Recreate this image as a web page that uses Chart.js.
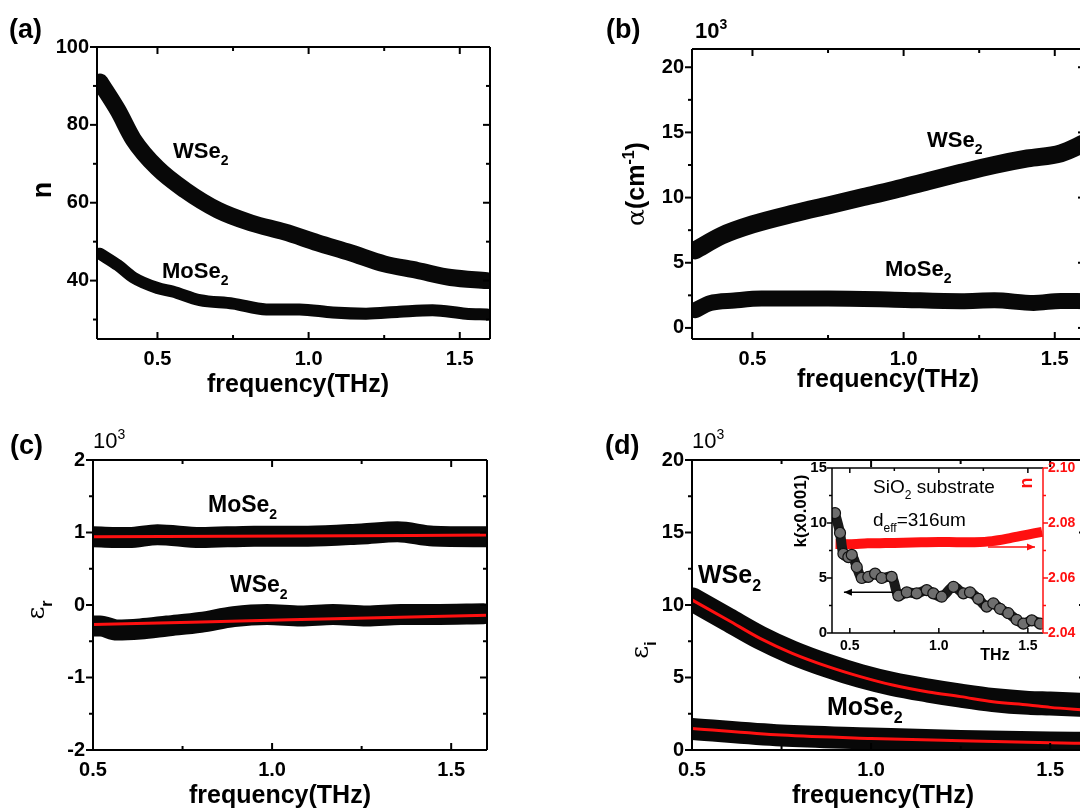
<!DOCTYPE html>
<html>
<head>
<meta charset="utf-8">
<script src="https://cdn.jsdelivr.net/npm/chart.js@4.4.0/dist/chart.umd.min.js"></script>
<style>
  html, body { margin: 0; padding: 0; background: #fff; overflow: hidden; width: 1080px; height: 810px; }
  canvas { position: absolute; }
</style>
</head>
<body>
<canvas id="panelA" width="520" height="410" style="left:0;top:0"></canvas>
<canvas id="panelB" width="540" height="410" style="left:560px;top:0"></canvas>
<canvas id="panelC" width="520" height="400" style="left:0;top:410px"></canvas>
<canvas id="panelD" width="540" height="400" style="left:560px;top:410px"></canvas>
<canvas id="inset" width="320" height="230" style="left:760px;top:440px"></canvas>
<script>
// --- data ---
// (a) refractive index n
const freqA_W = [0.31, 0.37, 0.42, 0.5, 0.59, 0.7, 0.81, 0.92, 1.03, 1.14, 1.25, 1.36, 1.47, 1.59];
const nWSe2   = [91.0, 83.6, 76.3, 68.9, 63.3, 58.1, 54.8, 52.5, 49.7, 47.1, 44.3, 42.6, 40.8, 40.0];
const freqA_M = [0.31, 0.37, 0.42, 0.5, 0.55, 0.64, 0.75, 0.86, 0.97, 1.08, 1.19, 1.3, 1.41, 1.52, 1.59];
const nMoSe2  = [46.9, 43.9, 40.8, 38.1, 37.2, 35.0, 34.1, 32.6, 32.6, 31.8, 31.5, 32.0, 32.4, 31.5, 31.3];

// (b) absorption alpha (x10^3 cm-1)
const freqB_W   = [0.31, 0.4, 0.5, 0.64, 0.75, 0.86, 0.97, 1.08, 1.19, 1.3, 1.41, 1.52, 1.6];
const alphaWSe2 = [5.95, 7.1, 7.94, 8.8, 9.4, 10.0, 10.6, 11.26, 11.9, 12.5, 13.0, 13.4, 14.2];
const freqB_M   = [0.31, 0.36, 0.44, 0.53, 0.75, 0.97, 1.19, 1.3, 1.43, 1.52, 1.6];
const alphaMoSe2 = [1.35, 1.9, 2.1, 2.25, 2.25, 2.17, 2.05, 2.12, 1.92, 2.07, 2.05];

// (c) real permittivity (x10^3)
const freqC_M   = [0.5, 0.6, 0.68, 0.8, 0.95, 1.1, 1.25, 1.35, 1.45, 1.6];
const erMoSe2   = [0.94, 0.93, 0.97, 0.93, 0.95, 0.95, 0.98, 1.01, 0.95, 0.94];
const freqC_W   = [0.5, 0.52, 0.567, 0.632, 0.707, 0.8, 0.893, 0.986, 1.08, 1.17, 1.265, 1.36, 1.45, 1.59];
const erWSe2    = [-0.29, -0.29, -0.345, -0.33, -0.29, -0.24, -0.16, -0.13, -0.15, -0.13, -0.15, -0.13, -0.13, -0.12];
const freqC_fit = [0.5, 1.05, 1.6];
const erMoSe2Fit = [0.94, 0.952, 0.965];
const erWSe2Fit  = [-0.27, -0.205, -0.14];

// (d) imaginary permittivity (x10^3)
const freqD_W    = [0.5, 0.6, 0.69, 0.78, 0.88, 0.97, 1.06, 1.16, 1.25, 1.34, 1.44, 1.5, 1.6];
const eiWSe2     = [10.4, 9.0, 7.75, 6.72, 5.8, 5.1, 4.55, 4.1, 3.75, 3.45, 3.25, 3.2, 3.1];
const eiWSe2Fit  = [10.35, 8.97, 7.7, 6.67, 5.75, 5.06, 4.48, 4.0, 3.68, 3.33, 3.1, 2.94, 2.75];
const freqD_M    = [0.5, 0.75, 1.0, 1.25, 1.5, 1.6];
const eiMoSe2    = [1.45, 1.0, 0.8, 0.62, 0.52, 0.5];
const eiMoSe2Fit = [1.49, 1.03, 0.8, 0.64, 0.5, 0.46];

// inset: SiO2 substrate
const freqK = [0.417, 0.445, 0.464, 0.492, 0.511, 0.539, 0.567, 0.604, 0.642, 0.679, 0.735, 0.773, 0.82, 0.876,
               0.932, 0.969, 1.016, 1.082, 1.138, 1.175, 1.222, 1.269, 1.306, 1.344, 1.39, 1.437, 1.475, 1.522, 1.569];
const kSiO2 = [10.9, 9.1, 7.2, 6.9, 7.1, 6.0, 5.0, 5.1, 5.4, 5.0, 5.1, 3.4, 3.7, 3.6,
               3.9, 3.6, 3.3, 4.2, 3.6, 3.7, 3.1, 2.4, 2.7, 2.2, 1.8, 1.2, 0.85, 1.15, 0.85];
const freqNs = [0.42, 0.5, 0.6, 0.7, 0.8, 0.9, 1.0, 1.1, 1.2, 1.3, 1.4, 1.5, 1.58];
const nSiO2  = [2.0724, 2.0723, 2.0726, 2.0727, 2.0728, 2.073, 2.0731, 2.073, 2.073, 2.0734, 2.0745, 2.0758, 2.0768];

// tick values
const freqTicks = [0.5, 1.0, 1.5];
const freqMinor = [0.75, 1.25];
const nTicks = [40, 60, 80, 100], nMinor = [30, 50, 70, 90];
const alphaTicks = [0, 5, 10, 15, 20], alphaMinor = [2.5, 7.5, 12.5, 17.5];
const erTicks = [-2, -1, 0, 1, 2], erMinor = [-1.5, -0.5, 0.5, 1.5];
const eiTicks = [0, 5, 10, 15, 20], eiMinor = [2.5, 7.5, 12.5, 17.5];
const kTicks = [0, 5, 10, 15], kMinor = [2.5, 7.5, 12.5];
const nsTicks = [2.04, 2.06, 2.08, 2.10], nsMinor = [2.05, 2.07, 2.09];

// --- helpers ---
const FONT = '"Liberation Sans", Arial, sans-serif';
const RED = '#ff1010';
const pts = (xs, ys) => xs.map((x, i) => ({ x: x, y: ys[i] }));

function band(xs, ys, width) {
  return { data: pts(xs, ys), borderColor: '#080808', borderWidth: width, cubicInterpolationMode: 'monotone',
           pointRadius: 0, borderCapStyle: 'round', borderJoinStyle: 'round', fill: false };
}
function fitLine(xs, ys) {
  return { data: pts(xs, ys), borderColor: RED, borderWidth: 3, cubicInterpolationMode: 'monotone', pointRadius: 0, fill: false };
}

function axis(pos, min, max, ticks, fmt, fit, opt) {
  opt = opt || {};
  return {
    type: 'linear', position: pos, min: min, max: max,
    afterBuildTicks: s => { s.ticks = ticks.map(v => ({ value: v })); },
    afterFit: s => { if (s.isHorizontal()) s.height = fit; else s.width = fit; },
    grid: { display: false, drawTicks: false },
    border: { display: false },
    ticks: { callback: fmt, color: opt.color || '#000', padding: opt.padding || 8, autoSkip: false, maxRotation: 0,
             font: { family: FONT, size: opt.size || 20, weight: 'bold' } }
  };
}

// rich text: parts = [[text, 'sub'|'sup'|undefined, fontOverride]]
function drawRich(ctx, t) {
  const size = t.size || 22;
  const fontFor = p => (p[2] && p[2].weight || t.weight || 'bold') + ' ' +
      (p[1] ? Math.round(size * 0.62) : size) + 'px ' + (p[2] && p[2].family || FONT);
  let total = 0;
  const widths = t.parts.map(p => { ctx.font = fontFor(p); const w = ctx.measureText(p[0]).width; total += w; return w; });
  ctx.save();
  ctx.translate(t.x, t.y);
  if (t.rot) ctx.rotate(t.rot * Math.PI / 180);
  ctx.fillStyle = t.color || '#000';
  ctx.textBaseline = 'alphabetic';
  ctx.textAlign = 'left';
  let cx = t.align === 'center' ? -total / 2 : 0;
  t.parts.forEach((p, i) => {
    ctx.font = fontFor(p);
    const dy = p[1] === 'sub' ? size * 0.3 : p[1] === 'sup' ? -size * 0.42 : 0;
    ctx.fillText(p[0], cx, dy);
    cx += widths[i];
  });
  ctx.restore();
}

function arrow(ctx, x1, y1, x2, y2, color) {
  ctx.save();
  ctx.strokeStyle = color; ctx.fillStyle = color; ctx.lineWidth = 1.5;
  ctx.beginPath(); ctx.moveTo(x1, y1); ctx.lineTo(x2, y2); ctx.stroke();
  const dir = Math.sign(x2 - x1);
  ctx.beginPath(); ctx.moveTo(x2, y2); ctx.lineTo(x2 - dir * 8, y2 - 3.5); ctx.lineTo(x2 - dir * 8, y2 + 3.5); ctx.closePath(); ctx.fill();
  ctx.restore();
}

// frame, inward/outward ticks, annotations
const framePlugin = {
  id: 'frame',
  beforeDatasetsDraw(chart, args, o) {
    if (!o.whiteArea) return;
    const a = chart.chartArea, ctx = chart.ctx;
    ctx.save(); ctx.fillStyle = '#fff'; ctx.fillRect(a.left, a.top, a.right - a.left, a.bottom - a.top); ctx.restore();
  },
  afterDraw(chart, args, o) {
    const ctx = chart.ctx, a = chart.chartArea, sx = chart.scales.x, sy = chart.scales.y, sy2 = chart.scales.y2;
    const L = o.tickLen || 7, l = o.minorLen || 4;
    const line = (x1, y1, x2, y2) => { ctx.beginPath(); ctx.moveTo(x1, y1); ctx.lineTo(x2, y2); ctx.stroke(); };
    ctx.save();
    ctx.lineWidth = o.lineWidth || 2;
    ctx.strokeStyle = '#000';
    line(a.left, a.top, a.right, a.top);
    line(a.left, a.bottom, a.right, a.bottom);
    line(a.left, a.top, a.left, a.bottom);
    ctx.strokeStyle = sy2 ? RED : '#000';
    line(a.right, a.top, a.right, a.bottom);
    ctx.strokeStyle = '#000';
    const xs = sx.ticks.map(t => [t.value, L]).concat((o.xMinor || []).map(v => [v, l]));
    xs.forEach(([v, len]) => {
      const p = sx.getPixelForValue(v);
      line(p, a.bottom, p, a.bottom - len);
      line(p, a.top, p, a.top + len);
    });
    const ys = sy.ticks.map(t => [t.value, L]).concat((o.yMinor || []).map(v => [v, l]));
    ys.forEach(([v, len]) => {
      const p = sy.getPixelForValue(v);
      line(a.left - len, p, a.left, p);
      if (!sy2) line(a.right, p, a.right - len, p);
    });
    if (sy2) {
      ctx.strokeStyle = RED;
      sy2.ticks.map(t => [t.value, L]).concat((o.y2Minor || []).map(v => [v, l])).forEach(([v, len]) => {
        const p = sy2.getPixelForValue(v);
        line(a.right, p, a.right + len, p);
      });
    }
    ctx.restore();
    (o.arrows || []).forEach(ar => {
      const ys2 = chart.scales[ar.axis];
      arrow(ctx, sx.getPixelForValue(ar.from), ys2.getPixelForValue(ar.y), sx.getPixelForValue(ar.to), ys2.getPixelForValue(ar.y), ar.color);
    });
    (o.texts || []).forEach(t => drawRich(ctx, t));
  }
};
Chart.register(framePlugin);

const fmt1 = v => v.toFixed(1);
const fmt0 = v => String(v);
const SYM = { family: '"DejaVu Serif", "Liberation Serif", serif', weight: 'normal' };

// note: Chart.js paints dataset 0 on top, so the red fits come first
function panel(id, datasets, scales, pad, frame) {
  return new Chart(document.getElementById(id), {
    type: 'line',
    data: { datasets: datasets },
    options: {
      responsive: false, animation: false,
      layout: { padding: pad },
      scales: scales,
      plugins: { legend: { display: false }, tooltip: { enabled: false }, frame: frame }
    }
  });
}

// (a)
panel('panelA',
  [band(freqA_W, nWSe2, 17), band(freqA_M, nMoSe2, 12)],
  { x: axis('bottom', 0.3, 1.6, freqTicks, fmt1, 71), y: axis('left', 25, 100, nTicks, fmt0, 97) },
  { top: 47, right: 30, left: 0, bottom: 0 },
  { xMinor: freqMinor, yMinor: nMinor, texts: [
    { x: 9, y: 38, size: 27, parts: [['(a)']] },
    { x: 51, y: 190, size: 27, rot: -90, align: 'center', parts: [['n']] },
    { x: 298, y: 392, size: 25, align: 'center', parts: [['frequency(THz)']] },
    { x: 173, y: 158, size: 22, parts: [['WSe'], ['2', 'sub']] },
    { x: 162, y: 278, size: 22, parts: [['MoSe'], ['2', 'sub']] }
  ] });

// (b)
panel('panelB',
  [band(freqB_W, alphaWSe2, 18), band(freqB_M, alphaMoSe2, 16)],
  { x: axis('bottom', 0.3, 1.6, freqTicks, fmt1, 71), y: axis('left', -0.85, 21.4, alphaTicks, fmt0, 132) },
  { top: 49, right: 15, left: 0, bottom: 0 },
  { xMinor: freqMinor, yMinor: alphaMinor, texts: [
    { x: 46, y: 38, size: 27, parts: [['(b)']] },
    { x: 135, y: 38, size: 22, parts: [['10'], ['3', 'sup']] },
    { x: 84, y: 184, size: 25, rot: -90, align: 'center', parts: [['\u03b1', undefined, SYM], ['(cm'], ['-1', 'sup'], [')']] },
    { x: 328, y: 387, size: 25, align: 'center', parts: [['frequency(THz)']] },
    { x: 367, y: 147, size: 22, parts: [['WSe'], ['2', 'sub']] },
    { x: 325, y: 276, size: 22, parts: [['MoSe'], ['2', 'sub']] }
  ] });

// (c)
panel('panelC',
  [fitLine(freqC_fit, erMoSe2Fit), fitLine(freqC_fit, erWSe2Fit), band(freqC_M, erMoSe2, 21), band(freqC_W, erWSe2, 21)],
  { x: axis('bottom', 0.5, 1.6, freqTicks, fmt1, 60), y: axis('left', -2, 2, erTicks, fmt0, 93) },
  { top: 50, right: 33, left: 0, bottom: 0 },
  { xMinor: freqMinor, yMinor: erMinor, texts: [
    { x: 10, y: 44, size: 27, parts: [['(c)']] },
    { x: 93, y: 38, size: 22, weight: 'normal', parts: [['10'], ['3', 'sup']] },
    { x: 44, y: 200, size: 25, rot: -90, align: 'center', parts: [['\u03b5', undefined, SYM], ['r', 'sub']] },
    { x: 280, y: 393, size: 25, align: 'center', parts: [['frequency(THz)']] },
    { x: 208, y: 102, size: 23, parts: [['MoSe'], ['2', 'sub']] },
    { x: 230, y: 182, size: 23, parts: [['WSe'], ['2', 'sub']] }
  ] });

// (d)
panel('panelD',
  [fitLine(freqD_W, eiWSe2Fit), fitLine(freqD_M, eiMoSe2Fit), band(freqD_W, eiWSe2, 24), band(freqD_M, eiMoSe2, 22)],
  { x: axis('bottom', 0.5, 1.6, freqTicks, fmt1, 60), y: axis('left', 0, 20, eiTicks, fmt0, 132) },
  { top: 50, right: 14, left: 0, bottom: 0 },
  { xMinor: freqMinor, yMinor: eiMinor, texts: [
    { x: 45, y: 44, size: 27, parts: [['(d)']] },
    { x: 132, y: 38, size: 22, weight: 'normal', parts: [['10'], ['3', 'sup']] },
    { x: 88, y: 240, size: 25, rot: -90, align: 'center', parts: [['\u03b5', undefined, SYM], ['i', 'sub']] },
    { x: 323, y: 393, size: 25, align: 'center', parts: [['frequency(THz)']] },
    { x: 138, y: 173, size: 25, parts: [['WSe'], ['2', 'sub']] },
    { x: 267, y: 305, size: 25, parts: [['MoSe'], ['2', 'sub']] }
  ] });

// inset
new Chart(document.getElementById('inset'), {
  type: 'line',
  data: { datasets: [
    { data: pts(freqK, kSiO2), yAxisID: 'y', borderColor: '#1a1a1a', borderWidth: 10, tension: 0.35,
      pointRadius: 5.5, pointBackgroundColor: '#6e6e6e', pointBorderColor: '#111', pointBorderWidth: 1.2 },
    { data: pts(freqNs, nSiO2), yAxisID: 'y2', borderColor: RED, borderWidth: 10, tension: 0.3, pointRadius: 0 }
  ] },
  options: {
    responsive: false, animation: false,
    layout: { padding: { top: 28, right: 0, left: 0, bottom: 0 } },
    scales: {
      x: axis('bottom', 0.4, 1.585, freqTicks, fmt1, 37, { size: 14, padding: 5 }),
      y: axis('left', 0, 15, kTicks, fmt0, 72, { size: 15, padding: 5 }),
      y2: axis('right', 2.04, 2.10, nsTicks, v => v.toFixed(2), 37, { size: 14, padding: 5, color: RED })
    },
    plugins: { legend: { display: false }, tooltip: { enabled: false }, frame: {
      whiteArea: true, lineWidth: 1.5, tickLen: 5, minorLen: 3,
      xMinor: freqMinor, yMinor: kMinor, y2Minor: nsMinor,
      arrows: [
        { axis: 'y', y: 3.7, from: 0.743, to: 0.467, color: '#000' },
        { axis: 'y2', y: 2.0713, from: 1.276, to: 1.54, color: RED }
      ],
      texts: [
        { x: 113, y: 53, size: 19, weight: 'normal', parts: [['SiO'], ['2', 'sub'], [' substrate']] },
        { x: 113, y: 86, size: 19, weight: 'normal', parts: [['d'], ['eff', 'sub'], ['=316um']] },
        { x: 272, y: 43, size: 18, rot: -90, align: 'center', color: RED, parts: [['n']] },
        { x: 46, y: 71, size: 17, rot: -90, align: 'center', parts: [['k(x0.001)']] },
        { x: 235, y: 220, size: 16, align: 'center', parts: [['THz']] }
      ]
    } }
  }
});
</script>
</body>
</html>
